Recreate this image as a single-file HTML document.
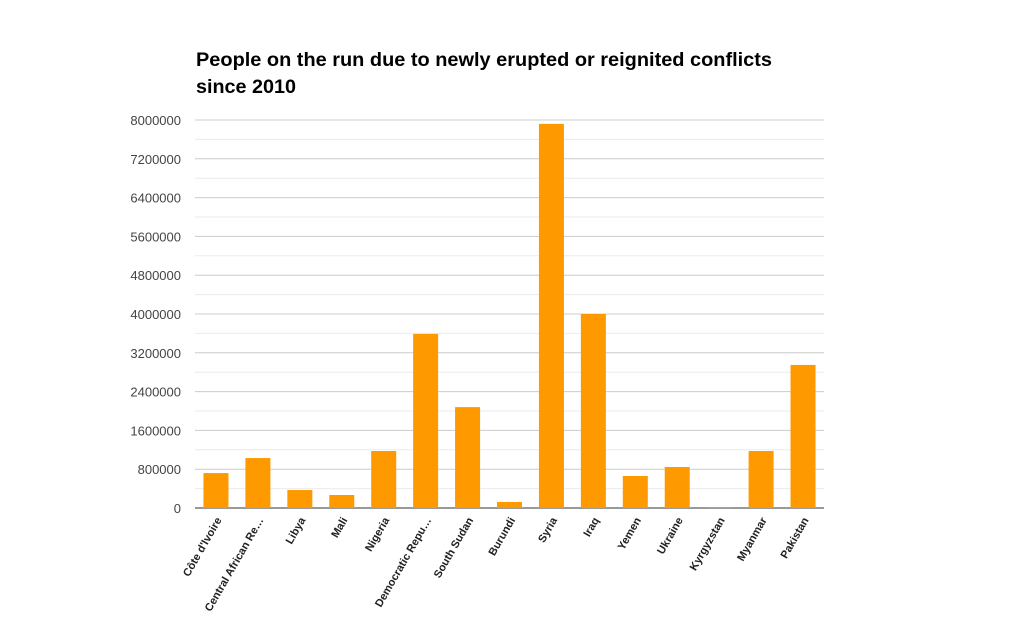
<!DOCTYPE html>
<html><head><meta charset="utf-8"><style>
body{margin:0;background:#fff;font-family:"Liberation Sans",Arial,sans-serif;}
</style></head><body>
<svg width="1018" height="629" id="c">
<text x="196" y="66" font-size="19" font-weight="bold" fill="#000" textLength="576" lengthAdjust="spacingAndGlyphs">People on the run due to newly erupted or reignited conflicts</text>
<text x="196" y="93" font-size="19" font-weight="bold" fill="#000" textLength="100" lengthAdjust="spacingAndGlyphs">since 2010</text>
<g id="grid"></g><g id="bars"></g><g id="labels"></g>
</svg>
<script>
const categories=["Côte d'Ivoire","Central African Re…","Libya","Mali","Nigeria","Democratic Repu…","South Sudan","Burundi","Syria","Iraq","Yemen","Ukraine","Kyrgyzstan","Myanmar","Pakistan"];
const values=[720000,1030000,371000,268000,1175000,3590000,2080000,124000,7920000,4000000,660000,845000,2000,1175000,2950000];
const ticks=[0,800000,1600000,2400000,3200000,4000000,4800000,5600000,6400000,7200000,8000000];
const NS="http://www.w3.org/2000/svg";
const x0=195,x1=824,y0=508,y1=120,maxV=8000000;
const y=v=>y0-(v/maxV)*(y0-y1);
const step=(x1-x0)/categories.length;
const xc=i=>x0+step*(i+0.5);
function mk(t,a,p){const e=document.createElementNS(NS,t);for(const k in a)e.setAttribute(k,a[k]);p.appendChild(e);return e;}
const grid=document.getElementById('grid'),bars=document.getElementById('bars'),labels=document.getElementById('labels');
for(let i=0;i<ticks.length-1;i++){
  const m=(ticks[i]+ticks[i+1])/2;
  const l=mk('line',{x1:x0,x2:x1,y1:y(m),y2:y(m),stroke:'#ebebeb','stroke-width':1},grid);
  
  
}
ticks.forEach(t=>{
  const l=mk('line',{x1:x0,x2:x1,y1:y(t),y2:y(t),stroke:t===0?'#333':'#ccc','stroke-width':1},grid);
  
  
  const tx=mk('text',{x:181,y:y(t)+5,'text-anchor':'end','font-size':13,fill:'#444'},grid);
  tx.textContent=t;
  
  
});
values.forEach((v,i)=>{
  const w=25;
  const r=mk('rect',{x:xc(i)-w/2,y:y(v),width:w,height:y0-y(v),fill:'#ff9900'},bars);
  
  
  const t=mk('text',{transform:`translate(${xc(i)+6},${y0+12}) rotate(-60)`,'text-anchor':'end','font-size':11,'font-weight':'bold',fill:'#222'},labels);
  t.textContent=categories[i];
  
  
});
</script>
</body></html>
